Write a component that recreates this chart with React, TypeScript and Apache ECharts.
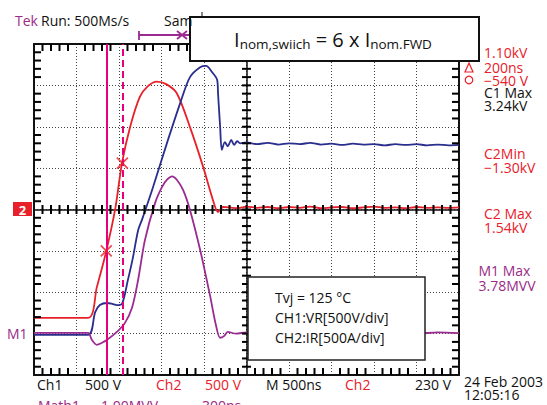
import React, { useEffect, useRef } from 'react';
import * as echarts from 'echarts';

// x: divisions from screen centre (500 ns/div), y: divisions from centre
const timeRange = [-5, 5];
const vertRange = [-4, 4];
const minorPerDiv = 5;

const ch2Current: [number, number][] = [
  [-5, -2.62], [-3.73, -2.62], [-3.52, -1.87], [-3.31, -1.05], [-3.09, 0.01], [-2.93, 1.12],
  [-2.74, 1.99], [-2.51, 2.72], [-2.32, 2.98], [-2.11, 3.09], [-1.89, 3.03], [-1.64, 2.81],
  [-1.33, 1.99], [-1.02, 1.03], [-0.79, 0.23], [-0.67, -0.06], [-0.55, 0.06],
  [-0.4, 0.05], [-0.2, 0.03], [0, 0.07], [0.25, 0.04], [0.5, 0.06], [0.75, 0.03], [1, 0.06],
  [1.25, 0.04], [1.5, 0.07], [1.75, 0.03], [2, 0.05], [2.25, 0.06], [2.5, 0.03], [2.75, 0.05],
  [3, 0.07], [3.25, 0.04], [3.5, 0.05], [3.75, 0.03], [4, 0.06], [4.25, 0.04], [4.5, 0.05],
  [4.75, 0.04], [5, 0.05],
];

const ch1Voltage: [number, number][] = [
  [-5, -3.03], [-3.73, -3.03], [-3.56, -2.48], [-3.45, -2.31], [-3.28, -2.26], [-3.16, -2.28],
  [-3.05, -2.31], [-2.93, -2.28], [-2.79, -1.7], [-2.67, -1.15], [-2.55, -0.5], [-2.46, -0.25],
  [-2.2, 0.54], [-1.87, 1.61], [-1.56, 2.57], [-1.33, 3.2], [-1.09, 3.44], [-0.95, 3.47],
  [-0.81, 3.32], [-0.69, 3.13], [-0.67, 2.81], [-0.62, 1.99], [-0.58, 1.44], [-0.51, 1.63],
  [-0.44, 1.53], [-0.36, 1.68], [-0.29, 1.56], [-0.22, 1.65], [-0.15, 1.6], [0, 1.62],
  [0.25, 1.58], [0.5, 1.61], [0.75, 1.57], [1, 1.6], [1.25, 1.58], [1.5, 1.61], [1.75, 1.57],
  [2, 1.59], [2.25, 1.56], [2.5, 1.59], [2.75, 1.57], [3, 1.58], [3.25, 1.55], [3.5, 1.58],
  [3.75, 1.56], [4, 1.58], [4.25, 1.55], [4.5, 1.57], [4.75, 1.55], [5, 1.56],
];

const math1Power: [number, number][] = [
  [-5, -2.98], [-3.73, -2.98], [-3.64, -3.15], [-3.52, -3.27], [-3.4, -3.22], [-3.28, -3.15],
  [-3.05, -2.96], [-2.86, -2.74], [-2.69, -2.36], [-2.55, -1.7], [-2.39, -0.74], [-2.15, 0.16],
  [-1.99, 0.54], [-1.87, 0.72], [-1.75, 0.8], [-1.64, 0.72], [-1.49, 0.47], [-1.33, -0.01],
  [-1.09, -0.98], [-0.86, -2.07], [-0.72, -2.79], [-0.62, -3.1], [-0.53, -3.06], [-0.44, -2.96],
  [-0.25, -3.0], [0, -2.97], [0.5, -3.0], [1, -2.97], [2, -2.99], [3, -2.97], [4, -3.0],
  [4.5, -2.97], [5, -2.99],
];

const cursorSolid = -3.3;
const cursorDashed = -2.92;
const cursorMarks: [number, number][] = [[-3.3, -1.0], [-2.92, 1.12]];

const topLabels = ['Tek', 'Run: 500Ms/s', 'Sam'];
const titleParts = ['I', 'nom,swiich', ' = 6 x I', 'nom.FWD'];
const cursorReadout = ['1.10kV', '200ns', '\u2212540 V'];
const c1Max = ['C1 Max', '3.24kV'];
const c2Min = ['C2Min', '\u22121.30kV'];
const c2Max = ['C2 Max', '1.54kV'];
const m1Max = ['M1 Max', '3.78MVV'];
const bottomLabels = ['Ch1', '500 V', 'Ch2', '500 V', 'M 500ns', 'Ch2', '230 V'];
const mathLabels = ['Math1', '1.00MVV', '300ns'];
const dateLabels = ['24 Feb 2003', '12:05:16'];
const infoLines = ['Tvj = 125 \u00B0C', 'CH1:VR[500V/div]', 'CH2:IR[500A/div]'];

const FONT = '"Open Sans", "Noto Sans", sans-serif';
const RED = '#e8202a';
const BLUE = '#2a2e8c';
const PURPLE = '#9a2b91';
const TEXTPURPLE = '#9a2b86';
const MAGENTA = '#e6007e';
const INK = '#111';

const hidden = () => ({ show: false });

function mainAxis(position: string, range: number[], withSplit: boolean, onZero: boolean) {
  return {
    type: 'value', min: range[0], max: range[1], interval: 1, position,
    axisLine: { show: true, onZero, onZeroAxisIndex: 0, lineStyle: { color: INK, width: onZero ? 1.5 : 2 } },
    axisTick: hidden(), minorTick: hidden(), axisLabel: hidden(),
    splitLine: { show: withSplit, lineStyle: { color: '#444', width: 1, type: [1, 2] } },
  };
}

// graticule tick positions (every 1/5 division) along each axis
function graticuleSteps(range: number[]) {
  const out: number[] = [];
  for (let k = range[0] * minorPerDiv + 1; k < range[1] * minorPerDiv; k++) out.push(k / minorPerDiv);
  return out;
}

function txt(text: string, x: number, y: number, fill: string, opts: any = {}) {
  return {
    type: 'text', x, y, z: 30,
    style: { text, fill, fontFamily: FONT, fontSize: 14, align: 'left', verticalAlign: 'middle', ...opts },
  };
}
function block(lines: string[], colors: string[], x: number, y: number, lineHeight: number) {
  const rich: any = {};
  const parts = lines.map((l, i) => {
    rich['s' + i] = { fill: colors[i], fontFamily: FONT, fontSize: 14, lineHeight };
    return `{s${i}|${l}}`;
  });
  return {
    type: 'text', x, y, z: 30,
    style: { text: parts.join('\n'), rich, align: 'left', verticalAlign: 'middle', fontSize: 14, fontFamily: FONT },
  };
}

function seg(x1: number, y1: number, x2: number, y2: number) {
  return { type: 'line', z: 20, silent: true, shape: { x1, y1, x2, y2 }, style: { stroke: '#000', lineWidth: 2, fill: null } };
}
const isMajor = (v: number) => Math.abs(v - Math.round(v)) < 1e-6;

export default function App() {
  const ref = useRef<HTMLDivElement>(null);
  useEffect(() => {
    const chart = echarts.init(ref.current!, null, { renderer: 'svg', width: 547, height: 405 });
    const bottomX = [37, 85, 156, 205, 266, 345, 415];
    const bottomColors = [INK, INK, RED, RED, INK, RED, INK];

    const traceLine = (data: [number, number][], color: string) => ({
      type: 'line', data, showSymbol: false, symbol: 'none', smooth: 0.3, z: 3,
      lineStyle: { color, width: 1.8 }, silent: true,
    });

    chart.setOption({
      animation: false,
      backgroundColor: '#fff',
      grid: { left: 34, top: 44, width: 425, height: 331 },
      xAxis: [
        mainAxis('bottom', timeRange, true, false),
        mainAxis('top', timeRange, false, false),
        mainAxis('bottom', timeRange, false, true),
      ],
      yAxis: [
        mainAxis('left', vertRange, true, false),
        mainAxis('right', vertRange, false, false),
        mainAxis('left', vertRange, false, true),
      ],
      series: [
        traceLine(ch2Current, RED),
        traceLine(ch1Voltage, BLUE),
        traceLine(math1Power, PURPLE),
        {
          type: 'line', data: [], z: 4, silent: true,
          markLine: {
            silent: true, symbol: ['none', 'none'], label: { show: false },
            data: [
              { xAxis: cursorSolid, lineStyle: { color: MAGENTA, width: 2, type: 'solid' } },
              { xAxis: cursorDashed, lineStyle: { color: MAGENTA, width: 2, type: [7, 4] } },
            ],
          },
        },
        {
          type: 'scatter', data: cursorMarks, z: 5, silent: true,
          symbol: 'path://M0,0L10,10M10,0L0,10', symbolSize: 11,
          itemStyle: { color: 'none', borderColor: RED, borderWidth: 1.8 },
        },
      ],
    });

    // graticule ticks placed through the grid's own scales
    const toPx = (x: number, y: number) => chart.convertToPixel({ xAxisIndex: 0, yAxisIndex: 0 }, [x, y]) as number[];
    const ticks: any[] = [];
    graticuleSteps(timeRange).forEach((v) => {
      const [px, pb] = toPx(v, vertRange[0]);
      const pt = toPx(v, vertRange[1])[1];
      const pc = toPx(v, 0)[1];
      ticks.push(seg(px, pc - 4.5, px, pc + 4.5));
      if (!isMajor(v)) {
        ticks.push(seg(px, pb, px, pb - 7));
        ticks.push(seg(px, pt, px, pt + 7));
      }
    });
    graticuleSteps(vertRange).forEach((v) => {
      const [pl, py] = toPx(timeRange[0], v);
      const pr = toPx(timeRange[1], v)[0];
      const pc = toPx(0, v)[0];
      ticks.push(seg(pc - 4.5, py, pc + 4.5, py));
      if (!isMajor(v)) {
        ticks.push(seg(pl, py, pl + 7, py));
        ticks.push(seg(pr, py, pr - 7, py));
      }
    });

    const graphic: any[] = [
      {
        type: 'group', z: 20, silent: true, children: ticks,
      },
      txt(topLabels[0], 15, 20, TEXTPURPLE),
      txt(topLabels[1], 41, 20, INK),
      txt(topLabels[2], 164, 20, INK),
      // trigger position bar
      { type: 'line', z: 25, shape: { x1: 139, y1: 35, x2: 195, y2: 35 }, style: { stroke: PURPLE, lineWidth: 1.8 } },
      { type: 'line', z: 25, shape: { x1: 139, y1: 31, x2: 139, y2: 40 }, style: { stroke: PURPLE, lineWidth: 1.8 } },
      { type: 'line', z: 25, shape: { x1: 177, y1: 31, x2: 187, y2: 39 }, style: { stroke: PURPLE, lineWidth: 1.8 } },
      { type: 'line', z: 25, shape: { x1: 187, y1: 31, x2: 177, y2: 39 }, style: { stroke: PURPLE, lineWidth: 1.8 } },
      { type: 'line', z: 25, shape: { x1: 202, y1: 12, x2: 202, y2: 18 }, style: { stroke: INK, lineWidth: 1 } },
      // title box
      { type: 'rect', z: 28, shape: { x: 190, y: 17, width: 289, height: 44 }, style: { fill: '#fff', stroke: INK, lineWidth: 2 } },
      {
        type: 'text', x: 333, y: 39, z: 30,
        style: {
          text: `{a|${titleParts[0]}}{b|${titleParts[1]}}{a|${titleParts[2]}}{b|${titleParts[3]}}`,
          align: 'center', verticalAlign: 'middle',
          rich: {
            a: { fontSize: 20, fontFamily: FONT, fill: INK, lineHeight: 24 },
            b: { fontSize: 13.5, fontFamily: FONT, fill: INK, lineHeight: 15, verticalAlign: 'bottom' },
          },
        },
      },
      // delta / circle symbols
      { type: 'polygon', z: 30, shape: { points: [[469, 63], [465, 72], [473, 72]] }, style: { fill: 'none', stroke: RED, lineWidth: 1.2 } },
      { type: 'circle', z: 30, shape: { cx: 469, cy: 80, r: 3.8 }, style: { fill: 'none', stroke: RED, lineWidth: 1.2 } },
      // channel markers
      { type: 'rect', z: 30, shape: { x: 13, y: 202, width: 19, height: 14 }, style: { fill: RED } },
      txt('2', 22.5, 209.5, '#fff', { align: 'center', fontWeight: 'bold', fontSize: 13 }),
      txt('M1', 7, 333, TEXTPURPLE),
      // info box
      { type: 'rect', z: 28, shape: { x: 248, y: 277, width: 177, height: 83 }, style: { fill: '#fff', stroke: '#222', lineWidth: 1.5 } },
      txt(infoLines[0], 275, 297.5, INK),
      txt(infoLines[1], 275, 317.5, INK),
      txt(infoLines[2], 275, 337.5, INK),
      // right-hand readouts
      txt(cursorReadout[0], 484, 52, RED),
      block([cursorReadout[1], cursorReadout[2], c1Max[0], c1Max[1]], [RED, RED, INK, INK], 484, 86.5, 12.7),
      block(c2Min, [RED, RED], 484, 160, 14),
      block(c2Max, [RED, RED], 484, 220, 14),
      block(m1Max, [TEXTPURPLE, TEXTPURPLE], 478.5, 278, 15.5),
      block(dateLabels, [INK, INK], 464, 388, 12.5),
      txt(mathLabels[0], 38, 405, TEXTPURPLE),
      txt(mathLabels[1], 101, 405, TEXTPURPLE),
      txt(mathLabels[2], 202, 405, TEXTPURPLE),
    ];
    bottomLabels.forEach((t, i) => graphic.push(txt(t, bottomX[i], 384.5, bottomColors[i])));

    chart.setOption({ graphic });
    return () => chart.dispose();
  }, []);
  return <div ref={ref} style={{ position: 'fixed', left: 0, top: 0, width: 547, height: 405, background: '#fff' }} />;
}
